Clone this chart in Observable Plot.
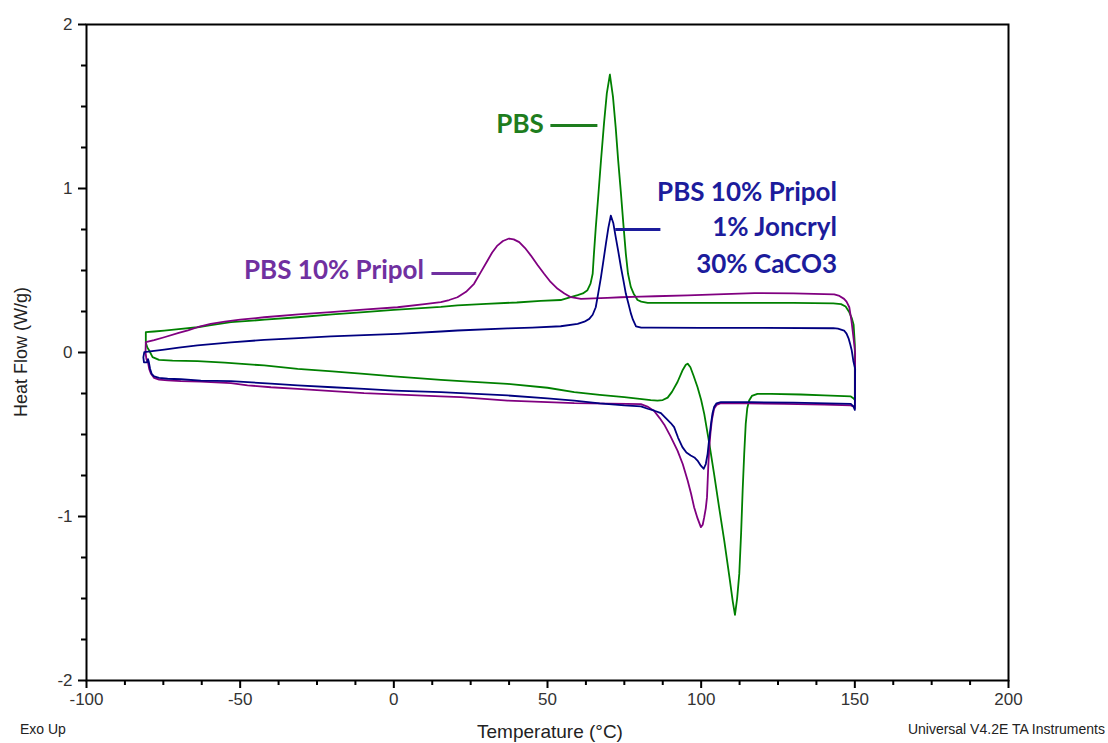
<!DOCTYPE html>
<html><head><meta charset="utf-8">
<script src="https://cdn.jsdelivr.net/npm/d3@7"></script>
<script src="https://cdn.jsdelivr.net/npm/@observablehq/plot@0.6"></script>
<style>body{margin:0;background:#fff}</style>
</head><body><div id="chart"></div>
<script>
// ---- Data (Temperature °C, Heat Flow W/g) ----
const pbsCooling = [[150,-0.29],[150,0.05],[149.6,0.17],[149,0.21],[148.2,0.245],[147,0.28],[145.5,0.295],[143,0.30],[130,0.302],[110,0.302],[90,0.302],[82.6,0.302],[80.5,0.31],[79.3,0.32],[78,0.36],[77.1,0.40],[76.2,0.48],[75.5,0.60],[74.7,0.78],[73.9,0.97],[73,1.17],[72.2,1.37],[71.3,1.56],[70.3,1.695],[69.3,1.58],[68.4,1.40],[67.4,1.17],[66.5,0.95],[65.7,0.76],[65.1,0.60],[64.7,0.48],[64,0.42],[63,0.38],[61.5,0.36],[59.8,0.35],[57,0.335],[54.3,0.32],[47.8,0.315],[40,0.305],[30,0.297],[20.7,0.287],[15.3,0.278],[0,0.26],[-9.7,0.246],[-20,0.232],[-31.3,0.215],[-42,0.2],[-53,0.185],[-60,0.166],[-63.9,0.154],[-70,0.142],[-74.7,0.134],[-78,0.128],[-80.7,0.124]];
const pbsHeating = [[-80.7,0.06],[-80.2,0.03],[-79.6,0.012],[-78.5,-0.028],[-76.4,-0.045],[-72,-0.05],[-63.9,-0.053],[-55,-0.062],[-42.2,-0.079],[-31.3,-0.1],[-20,-0.115],[-9.7,-0.13],[0,-0.145],[15.3,-0.167],[21.8,-0.175],[37,-0.191],[50,-0.215],[58.7,-0.242],[67,-0.258],[75,-0.272],[80,-0.283],[83.6,-0.29],[85.8,-0.293],[87.5,-0.29],[89.1,-0.275],[90.5,-0.24],[92.3,-0.18],[93.9,-0.11],[95,-0.075],[95.6,-0.068],[96.5,-0.09],[97.5,-0.14],[98.8,-0.21],[100,-0.29],[101,-0.374],[102.6,-0.55],[104.2,-0.74],[105.8,-0.94],[107.5,-1.146],[109.2,-1.37],[110.3,-1.52],[111,-1.60],[111.7,-1.50],[112.4,-1.35],[113,-1.10],[113.5,-0.84],[114,-0.62],[114.5,-0.435],[115,-0.34],[115.6,-0.293],[116.5,-0.265],[118.3,-0.252],[122.7,-0.252],[132.4,-0.256],[140,-0.262],[148.7,-0.268],[149.6,-0.28],[150,-0.29]];

const pripolCooling = [[150,-0.34],[150.1,0.0],[149.5,0.1],[148.9,0.195],[148.2,0.276],[147.3,0.31],[146.5,0.327],[145,0.345],[143.3,0.354],[130,0.36],[117.3,0.362],[105,0.355],[95.6,0.348],[85,0.343],[80.4,0.341],[73.9,0.337],[69.5,0.333],[65,0.33],[60.9,0.327],[57.6,0.337],[55.5,0.36],[53.3,0.388],[51,0.43],[48.9,0.48],[46.7,0.535],[44.6,0.591],[42.7,0.637],[40.8,0.673],[39,0.69],[37.5,0.695],[35.5,0.68],[33.7,0.652],[32,0.61],[30.5,0.561],[28.3,0.49],[26.1,0.419],[23.5,0.37],[20.7,0.337],[18,0.32],[15.3,0.307],[10,0.295],[1.2,0.276],[-10,0.262],[-20.5,0.246],[-31,0.232],[-42.2,0.215],[-50,0.2],[-55,0.188],[-59.6,0.175],[-63.9,0.154],[-67,0.135],[-70,0.12],[-74.7,0.093],[-78,0.075],[-80.7,0.063]];
const pripolHeating = [[-80.8,0.0],[-80.5,-0.04],[-80,-0.06],[-79.6,-0.1],[-79,-0.13],[-78,-0.155],[-76.4,-0.165],[-73.6,-0.17],[-69.3,-0.175],[-62.8,-0.178],[-53,-0.187],[-47.6,-0.2],[-40,-0.212],[-31.3,-0.222],[-20,-0.235],[-9.7,-0.248],[0,-0.255],[15.3,-0.268],[21.8,-0.272],[37,-0.293],[50,-0.302],[58.7,-0.309],[70,-0.312],[76,-0.313],[80.4,-0.315],[82.5,-0.33],[84.7,-0.357],[86.5,-0.4],[88,-0.44],[90,-0.51],[92.3,-0.598],[94,-0.68],[95.6,-0.78],[96.7,-0.86],[97.7,-0.943],[98.8,-1.01],[99.9,-1.065],[100.5,-1.05],[101,-1.004],[101.5,-0.95],[101.9,-0.882],[102.3,-0.70],[102.6,-0.59],[103,-0.496],[103.5,-0.41],[104.2,-0.343],[105,-0.32],[106.4,-0.309],[115,-0.31],[127,-0.313],[140,-0.318],[148.7,-0.323],[149.6,-0.33],[150,-0.34]];

const joncrylCooling = [[150,-0.35],[150.1,-0.1],[149.5,-0.05],[149,0.012],[148.5,0.05],[148,0.084],[147.3,0.115],[146.5,0.134],[144.5,0.145],[143,0.148],[120,0.15],[100,0.15],[83.6,0.152],[80.5,0.152],[78.8,0.16],[77.8,0.2],[77.1,0.24],[76.3,0.3],[75.5,0.358],[74.7,0.44],[73.9,0.52],[73,0.62],[72.2,0.703],[71.4,0.79],[70.6,0.835],[69.8,0.76],[69,0.663],[68.2,0.56],[67.4,0.46],[66.5,0.36],[65.7,0.276],[64.7,0.23],[63.6,0.205],[62,0.188],[59.8,0.175],[54.3,0.16],[45,0.152],[37,0.147],[20.7,0.134],[15.3,0.128],[1.2,0.114],[-9.7,0.106],[-20.5,0.098],[-31,0.088],[-42.2,0.077],[-53,0.062],[-63.9,0.043],[-70,0.03],[-74.7,0.018],[-78,0.01],[-81.2,0.002]];
const joncrylHeating = [[-81.5,-0.03],[-81.3,-0.06],[-80.3,-0.06],[-80,-0.04],[-79.7,-0.06],[-79.3,-0.1],[-78.8,-0.13],[-78,-0.145],[-76.4,-0.155],[-73.6,-0.16],[-69.3,-0.163],[-62.8,-0.171],[-53,-0.175],[-47.6,-0.181],[-40,-0.19],[-31.3,-0.201],[-20,-0.212],[-9.7,-0.222],[0,-0.232],[15.3,-0.242],[21.8,-0.248],[37,-0.262],[50,-0.28],[58.7,-0.293],[67,-0.31],[75,-0.323],[80.4,-0.328],[82.6,-0.343],[84.8,-0.355],[86.9,-0.37],[88.5,-0.4],[90.1,-0.43],[91.2,-0.455],[92.5,-0.52],[93.9,-0.577],[95.2,-0.61],[96.6,-0.628],[97.8,-0.64],[98.8,-0.659],[99.9,-0.69],[100.8,-0.709],[101.5,-0.68],[102.1,-0.618],[102.6,-0.53],[103.2,-0.435],[103.7,-0.37],[104.2,-0.333],[105,-0.31],[106.4,-0.303],[116.2,-0.303],[130,-0.306],[148.7,-0.313],[149.6,-0.33],[150,-0.35]];

// Tick values
const xMajor = [-100,-50,0,50,100,150,200];
const xMinor = [-87.5,-75,-62.5,-37.5,-25,-12.5,12.5,25,37.5,62.5,75,87.5,112.5,125,137.5,162.5,175,187.5];
const yMajor = [-2,-1,0,1,2];
const yMinor = [-1.75,-1.5,-1.25,-0.75,-0.5,-0.25,0.25,0.5,0.75,1.25,1.5,1.75];

// Annotation labels
const labelText = ["PBS","PBS 10% Pripol","PBS 10% Pripol","1% Joncryl","30% CaCO3"];
const labelT = [48.8, 9.8, 144.2, 144.2, 144.2];
const labelH = [1.39, 0.50, 0.976, 0.762, 0.537];
const labelColor = ["#1e7d1e","#7030a0","#1c1c9c","#1c1c9c","#1c1c9c"];
const leaderT1 = [51.1, 12.4, 72.2];
const leaderT2 = [66.4, 27.0, 86.9];
const leaderH = [1.384, 0.482, 0.75];
const leaderColor = ["#1e7d1e","#7030a0","#1c1c9c"];

const series = [
  {name:"PBS", color:"#008000", pts:[...pbsCooling, ...pbsHeating]},
  {name:"PBS 10% Pripol", color:"#800080", pts:[...pripolCooling, ...pripolHeating]},
  {name:"PBS 10% Pripol 1% Joncryl 30% CaCO3", color:"#000080", pts:[...joncrylCooling, ...joncrylHeating]}
];

const labels = labelText.map((t,i)=>({t, x:labelT[i], y:labelH[i], c:labelColor[i]}));
const leaders = leaderT1.map((x1,i)=>({x1, x2:leaderT2[i], y:leaderH[i], c:leaderColor[i]}));

const fmt = d => String(d);

const chart = Plot.plot({
  width: 1108, height: 743,
  marginLeft: 86, marginRight: 100, marginTop: 24, marginBottom: 63,
  style: {fontFamily: "'Liberation Sans', Arial, sans-serif", fontSize: "17px", color: "black", background: "white"},
  x: {domain: [-100, 200]},
  y: {domain: [-2, 2]},
  marks: [
    Plot.axisX({ticks: xMinor, tickSize: 5, text: null, strokeWidth: 2, label: null}),
    Plot.axisX({ticks: xMajor, tickSize: 8, tickPadding: 4, tickFormat: fmt, strokeWidth: 2, fill: "#333", label: null, fontSize: 17}),
    Plot.axisY({ticks: yMinor, tickSize: 5, text: null, strokeWidth: 2, label: null}),
    Plot.axisY({ticks: yMajor, tickSize: 8, tickPadding: 6, tickFormat: fmt, strokeWidth: 2, fill: "#333", label: null, fontSize: 17}),
    ...series.map(s => Plot.line(s.pts, {x: d => d[0], y: d => d[1], stroke: s.color, strokeWidth: 1.8, strokeLinejoin: "round"})),
    Plot.ruleY(leaders, {x1: "x1", x2: "x2", y: "y", stroke: "c", strokeWidth: 3}),
    Plot.text(labels, {x: "x", y: "y", text: "t", fill: "c", textAnchor: "end", fontSize: 26, fontWeight: "bold", fontFamily: "Lato, 'Open Sans', sans-serif"}),
    Plot.frame({stroke: "black", strokeWidth: 2})
  ]
});

const svg = d3.select(chart);
svg.append("text").attr("transform","translate(22,352) rotate(-90)").attr("text-anchor","middle").attr("dominant-baseline","middle")
  .attr("font-size",18).attr("fill","#222").text("Heat Flow (W/g)");
svg.append("text").attr("x",550).attr("y",733).attr("text-anchor","middle").attr("dominant-baseline","middle")
  .attr("font-size",19).attr("fill","#222").text("Temperature (°C)");
svg.append("text").attr("x",20).attr("y",734).attr("text-anchor","start").attr("font-size",14).attr("fill","#222").text("Exo Up");
svg.append("text").attr("x",1105).attr("y",734).attr("text-anchor","end").attr("font-size",14).attr("fill","#222").text("Universal V4.2E TA Instruments");

document.getElementById("chart").appendChild(chart);
</script>
</body></html>
